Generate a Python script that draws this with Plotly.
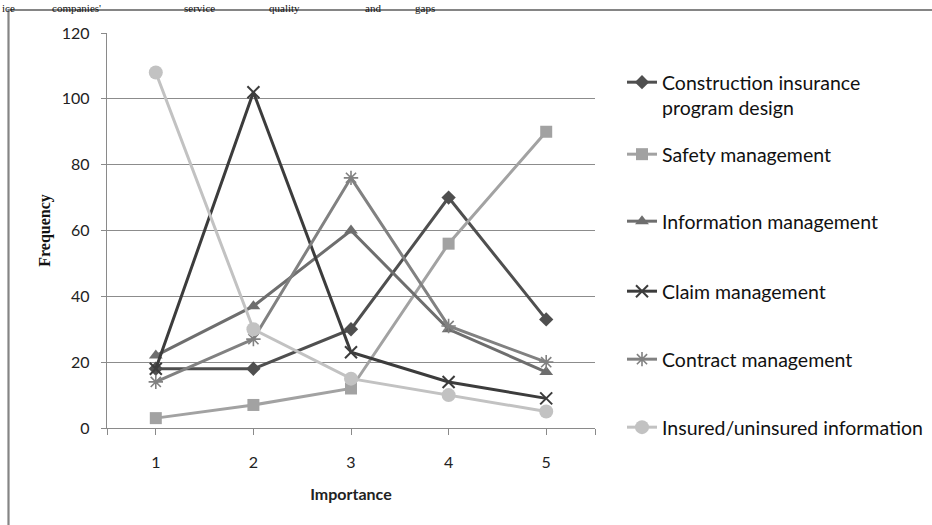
import plotly.graph_objects as go

# Importance ratings (1 = lowest, 5 = highest)
importance = [1, 2, 3, 4, 5]

# Frequency of responses per service item
construction_program = [18, 18, 30, 70, 33]
safety_mgmt = [3, 7, 12, 56, 90]
information_mgmt = [22, 37, 60, 30, 17]
claim_mgmt = [18, 102, 23, 14, 9]
contract_mgmt = [14, 27, 76, 31, 20]
insured_info = [108, 30, 15, 10, 5]

series_names = [
    "Construction insurance<br>program design",
    "Safety management",
    "Information management",
    "Claim management",
    "Contract management",
    "Insured/uninsured information",
]
series_values = [construction_program, safety_mgmt, information_mgmt,
                 claim_mgmt, contract_mgmt, insured_info]

y_ticks = [0, 20, 40, 60, 80, 100, 120]

# styling per series: line colour, marker symbol, marker size, marker line width
styles = [
    ("#4f4f4f", "diamond", 11, 0),
    ("#a2a2a2", "square", 12, 0),
    ("#6e6e6e", "triangle-up", 12, 0),
    ("#3c3c3c", "x-thin-open", 12, 2),
    ("#818181", "asterisk-open", 12, 1.6),
    ("#c2c2c2", "circle", 14, 0),
]

W, H = 932, 525
L, R, T, B = 107, 595, 33, 428  # plot area in pixels
pw, ph = R - L, B - T


def px_x(x):
    return (x - L) / pw


def px_y(y):
    return (B - y) / ph


fig = go.Figure()
legend_keys = ["legend", "legend2", "legend3", "legend4", "legend5", "legend6"]
for i, (name, vals, st) in enumerate(zip(series_names, series_values, styles)):
    color, symbol, size, mlw = st
    marker = dict(symbol=symbol, size=size, color=color)
    if mlw:
        marker["line"] = dict(color=color, width=mlw)
    fig.add_trace(go.Scatter(
        x=importance, y=vals, name=name, mode="lines+markers",
        line=dict(color=color, width=3),
        marker=marker,
        legend=legend_keys[i],
    ))

# one legend box per entry so rows can be spaced like the original layout
legend_rows = [83, 155, 222, 292, 360, 428]
layout_legends = {}
for key, row in zip(legend_keys, legend_rows):
    layout_legends[key] = dict(
        x=px_x(622), y=px_y(row - 20), xanchor="left", yanchor="top",
        font=dict(family="Lato, Carlito, sans-serif", size=19.5, color="#111111"),
        bgcolor="rgba(0,0,0,0)", borderwidth=0, valign="top",
        itemwidth=30,
    )

fig.update_layout(
    width=W, height=H, autosize=False,
    margin=dict(l=L, r=W - R, t=T, b=H - B, pad=0, autoexpand=False),
    paper_bgcolor="white", plot_bgcolor="white",
    showlegend=True,
    **layout_legends,
)

fig.update_xaxes(
    range=[0.5, 5.5], tickmode="array", tickvals=importance,
    ticktext=[str(v) for v in importance],
    showgrid=False, zeroline=False,
    showline=True, linecolor="#8a8a8a", linewidth=1.3,
    ticks="outside", ticklen=6, tickcolor="#8a8a8a", tickwidth=1,
    ticklabelstandoff=14,
    minor=dict(tickmode="array", tickvals=[0.5, 5.5], ticks="outside",
               ticklen=6, tickcolor="#8a8a8a", showgrid=False),
    tickfont=dict(family="Lato, Carlito, sans-serif", size=16, color="#222222"),
    title=dict(text="<b>Importance</b>", standoff=18,
               font=dict(family="Lato, Carlito, sans-serif", size=16, color="#222222")),
)
fig.update_yaxes(
    range=[0, 120], tickmode="array", tickvals=y_ticks,
    showgrid=True, gridcolor="#8c8c8c", gridwidth=1.2, zeroline=False,
    showline=True, linecolor="#8a8a8a", linewidth=1.3,
    ticks="outside", ticklen=5, tickcolor="#8a8a8a",
    ticklabelstandoff=8,
    tickfont=dict(family="Lato, Carlito, sans-serif", size=16, color="#222222"),
    title=dict(text="<b>Frequency</b>", standoff=7,
               font=dict(family="Liberation Serif, Times New Roman, serif",
                         size=16, color="#111111")),
)

# outer chart border
fig.add_shape(type="rect", xref="paper", yref="paper",
              x0=px_x(8.5), x1=px_x(940), y0=px_y(540), y1=px_y(10),
              line=dict(color="#858585", width=2.2), fillcolor="rgba(0,0,0,0)",
              layer="below")

# running heading of the page above the chart
heading_words = [("ice", 0), ("companies'", 50), ("service", 182),
                 ("quality", 267), ("and", 363), ("gaps", 413)]
for word, xpos in heading_words:
    fig.add_annotation(
        text=word, xref="paper", yref="paper", x=px_x(xpos), y=px_y(0),
        xanchor="left", yanchor="top", showarrow=False,
        font=dict(family="Liberation Serif, Times New Roman, serif",
                  size=11, color="#111111"),
    )

fig.write_html("out.html")
